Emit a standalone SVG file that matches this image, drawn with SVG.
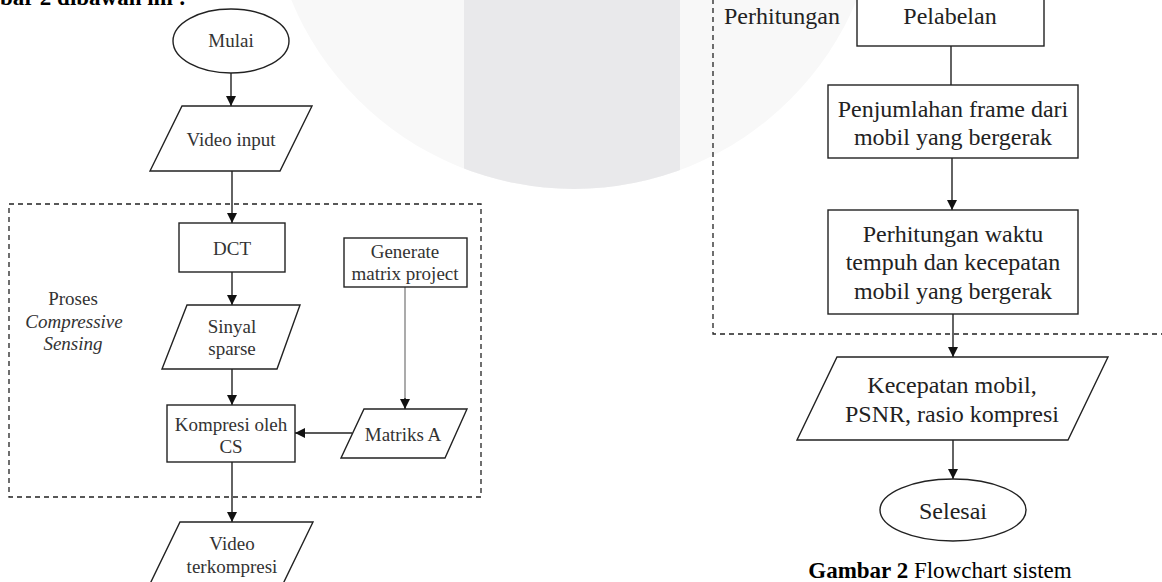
<svg xmlns="http://www.w3.org/2000/svg" width="1162" height="582" viewBox="0 0 1162 582">
<defs>
<marker id="arr" viewBox="0 0 10 10" refX="10" refY="5" markerWidth="10" markerHeight="10" markerUnits="userSpaceOnUse" orient="auto">
<path d="M0,0 L10,5 L0,10 z" fill="#111"/>
</marker>
<clipPath id="wm"><circle cx="574" cy="-117" r="306"/></clipPath>
</defs>
<style>
.shape{fill:#fff;stroke:#222;stroke-width:1.4}
.dash{fill:none;stroke:#222;stroke-width:1.3;stroke-dasharray:5,4}
.conn{fill:none;stroke:#222;stroke-width:1.4}
.thin{fill:none;stroke:#666;stroke-width:1.1}
.tl{font-family:"Liberation Serif","Times New Roman",serif;font-size:19px;fill:#333;text-anchor:middle}
.tr{font-family:"Liberation Serif","Times New Roman",serif;font-size:24px;fill:#222;text-anchor:middle}
.it{font-style:italic}
.doc{font-family:"Liberation Serif","Times New Roman",serif;font-size:23px;fill:#000}
</style>
<rect width="1162" height="582" fill="#fff"/>
<g id="watermark">
<circle cx="574" cy="-117" r="306" fill="#f8f8f8"/>
<rect x="464" y="0" width="216" height="200" fill="#e9e9eb" clip-path="url(#wm)"/>
</g>
<text class="doc" x="0" y="5" font-size="24" font-weight="bold">bar 2 dibawah ini :</text>
<g id="groups">
<rect id="cs-box" class="dash" x="9" y="204" width="472" height="293"/>
<path id="perhitungan-box" class="dash" d="M713,-10 V334 H1170"/>
<g id="label-proses">
<text class="tl" x="73" y="305">Proses</text>
<text class="tl it" x="74" y="328">Compressive</text>
<text class="tl it" x="73" y="350">Sensing</text>
</g>
<text id="label-perhitungan" class="tr" x="782" y="24">Perhitungan</text>
</g>
<g id="connectors">
<line class="conn" x1="231" y1="73" x2="231" y2="106" marker-end="url(#arr)"/>
<line class="conn" x1="232" y1="171" x2="232" y2="223" marker-end="url(#arr)"/>
<line class="conn" x1="232" y1="272" x2="232" y2="305" marker-end="url(#arr)"/>
<line class="conn" x1="232" y1="369" x2="232" y2="405" marker-end="url(#arr)"/>
<line class="thin" x1="405" y1="287" x2="405" y2="409"/>
<line class="conn" x1="405" y1="398" x2="405" y2="409" marker-end="url(#arr)"/>
<line class="conn" x1="352" y1="433" x2="295" y2="433" marker-end="url(#arr)"/>
<line class="conn" x1="232" y1="462" x2="232" y2="522" marker-end="url(#arr)"/>
<line class="conn" x1="951" y1="46" x2="951" y2="85"/>
<line class="conn" x1="952" y1="158" x2="952" y2="210" marker-end="url(#arr)"/>
<line class="conn" x1="953" y1="314" x2="953" y2="357" marker-end="url(#arr)"/>
<line class="conn" x1="953" y1="440" x2="953" y2="479" marker-end="url(#arr)"/>
</g>
<g id="mulai">
<ellipse class="shape" cx="231" cy="41" rx="58" ry="32"/>
<text class="tl" x="231" y="47">Mulai</text>
</g>
<g id="video-input">
<polygon class="shape" points="182,106 312,106 280,171 150,171"/>
<text class="tl" x="231" y="146">Video input</text>
</g>
<g id="dct">
<rect class="shape" x="179" y="223" width="106" height="49"/>
<text class="tl" x="232" y="255">DCT</text>
</g>
<g id="generate">
<rect class="shape" x="344" y="238" width="123" height="49"/>
<text class="tl" x="405" y="258" font-size="18">Generate</text>
<text class="tl" x="405" y="280" font-size="18">matrix project</text>
</g>
<g id="sinyal-sparse">
<polygon class="shape" points="187,305 300,305 277,369 162,369"/>
<text class="tl" x="232" y="333">Sinyal</text>
<text class="tl" x="232" y="355">sparse</text>
</g>
<g id="matriks-a">
<polygon class="shape" points="364,409 467,409 445,458 341,458"/>
<text class="tl" x="403" y="441">Matriks A</text>
</g>
<g id="kompresi">
<rect class="shape" x="167" y="405" width="128" height="57"/>
<text class="tl" x="231" y="431">Kompresi oleh</text>
<text class="tl" x="231" y="453">CS</text>
</g>
<g id="video-terkompresi">
<polygon class="shape" points="180,522 313,522 281,588 148,588"/>
<text class="tl" x="232" y="550">Video</text>
<text class="tl" x="232" y="573">terkompresi</text>
</g>
<g id="pelabelan">
<rect class="shape" x="857" y="-20" width="187" height="66"/>
<text class="tr" x="950" y="24">Pelabelan</text>
</g>
<g id="penjumlahan">
<rect class="shape" x="828" y="85" width="250" height="73"/>
<text class="tr" x="953" y="117">Penjumlahan frame dari</text>
<text class="tr" x="953" y="145">mobil yang bergerak</text>
</g>
<g id="perhitungan-waktu">
<rect class="shape" x="828" y="210" width="250" height="104"/>
<text class="tr" x="953" y="242">Perhitungan waktu</text>
<text class="tr" x="953" y="270">tempuh dan kecepatan</text>
<text class="tr" x="953" y="299">mobil yang bergerak</text>
</g>
<g id="output">
<polygon class="shape" points="837,357 1108,357 1068,440 797,440"/>
<text class="tr" x="952" y="393">Kecepatan mobil,</text>
<text class="tr" x="952" y="422">PSNR, rasio kompresi</text>
</g>
<g id="selesai">
<ellipse class="shape" cx="953" cy="510" rx="73" ry="31"/>
<text class="tr" x="953" y="519">Selesai</text>
</g>
<text id="caption" class="doc" x="940" y="578" text-anchor="middle"><tspan font-weight="bold">Gambar 2</tspan> Flowchart sistem</text>
</svg>
